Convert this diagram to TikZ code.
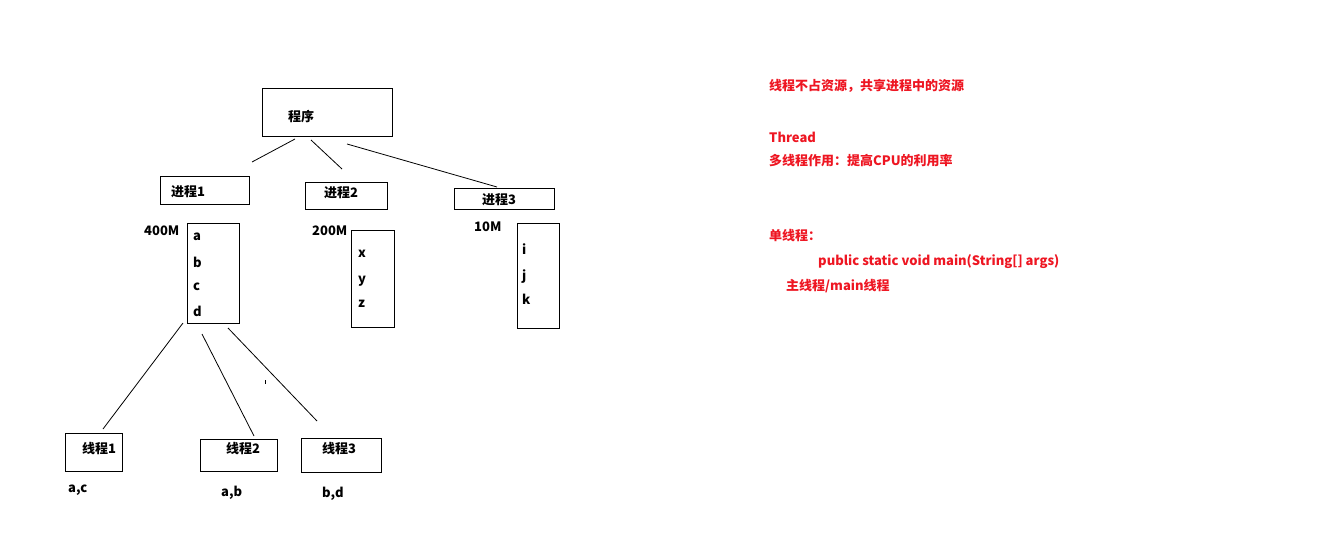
\documentclass[tikz,border=0pt]{standalone}
\usepackage{fontspec}
\setmainfont{Noto Sans CJK SC}
\definecolor{note}{RGB}{238,22,34}
\tikzset{
  box/.style={draw=black, line width=1pt, inner sep=0pt, anchor=north west},
  lbl/.style={anchor=west, inner sep=0pt, font=\fontsize{13}{15}\selectfont\bfseries, text=black},
  rtxt/.style={lbl, text=note},
  conn/.style={draw=black, line width=0.8pt}
}
\begin{document}
\begin{tikzpicture}[x=1pt,y=-1pt]
\useasboundingbox[fill=white] (0,0) rectangle (1317,543);
% boxes
\node[box, minimum width=130pt, minimum height=48pt] (prog) at (262,88) {};
\node[box, minimum width=89pt, minimum height=28pt] (p1) at (160,176) {};
\node[box, minimum width=82pt, minimum height=27pt] (p2) at (305,182) {};
\node[box, minimum width=100pt, minimum height=21pt] (p3) at (454,188) {};
\node[box, minimum width=52pt, minimum height=100pt] (m1) at (187,223) {};
\node[box, minimum width=43pt, minimum height=97pt] (m2) at (351,230) {};
\node[box, minimum width=42pt, minimum height=105pt] (m3) at (517,223) {};
\node[box, minimum width=57pt, minimum height=38pt] (t1) at (65,433) {};
\node[box, minimum width=77pt, minimum height=32pt] (t2) at (200,439) {};
\node[box, minimum width=80pt, minimum height=34pt] (t3) at (301,438) {};
% labels
\node[lbl] (progt) at (288,117) {程序};
\node[lbl] (p1t) at (171,192) {进程1};
\node[lbl] (p2t) at (324,193) {进程2};
\node[lbl] (p3t) at (482,200) {进程3};
\node[lbl] (s1) at (144,231) {400M};
\node[lbl] (s2) at (312,231) {200M};
\node[lbl] (s3) at (474,227) {10M};
\node[lbl] (va) at (193,237) {a};
\node[lbl] (vb) at (193,262) {b};
\node[lbl] (vc) at (193,287) {c};
\node[lbl] (vd) at (193,311) {d};
\node[lbl] (vx) at (358,254) {x};
\node[lbl] (vy) at (358,281) {y};
\node[lbl] (vz) at (358,304) {z};
\node[lbl] (vi) at (522,249) {i};
\node[lbl] (vj) at (522,277) {j};
\node[lbl] (vk) at (522,299) {k};
\node[lbl] (t1t) at (82,449) {线程1};
\node[lbl] (t2t) at (226,449) {线程2};
\node[lbl] (t3t) at (322,449) {线程3};
\node[lbl] (u1) at (68,490) {a,c};
\node[lbl] (u2) at (221,493) {a,b};
\node[lbl] (u3) at (322,494) {b,d};
% red notes
\node[rtxt] (n1) at (769,86) {线程不占资源，共享进程中的资源};
\node[rtxt] (n2) at (769,137) {Thread};
\node[rtxt] (n3) at (769,161) {多线程作用：提高CPU的利用率};
\node[rtxt] (n4) at (769,236) {单线程：};
\node[rtxt] (n5) at (818,262) {public static void main(String[] args)};
\node[rtxt] (n6) at (786,286) {主线程/main线程};
% connector end points
\coordinate (a1) at (295,139); \coordinate (b1) at (252,162);
\coordinate (a2) at (311,140); \coordinate (b2) at (342,169);
\coordinate (a3) at (347,144); \coordinate (b3) at (497,187);
\coordinate (c1) at (183,323); \coordinate (d1) at (103,429);
\coordinate (c2) at (202,334); \coordinate (d2) at (254,436);
\coordinate (c3) at (228,328); \coordinate (d3) at (317,421);
\coordinate (k1) at (265,380); \coordinate (k2) at (265,383.5);
\draw[conn] (a1) -- (b1);
\draw[conn] (a2) -- (b2);
\draw[conn] (a3) -- (b3);
\draw[conn] (c1) -- (d1);
\draw[conn] (c2) -- (d2);
\draw[conn] (c3) -- (d3);
\draw[conn] (k1) -- (k2);
\end{tikzpicture}
\end{document}
